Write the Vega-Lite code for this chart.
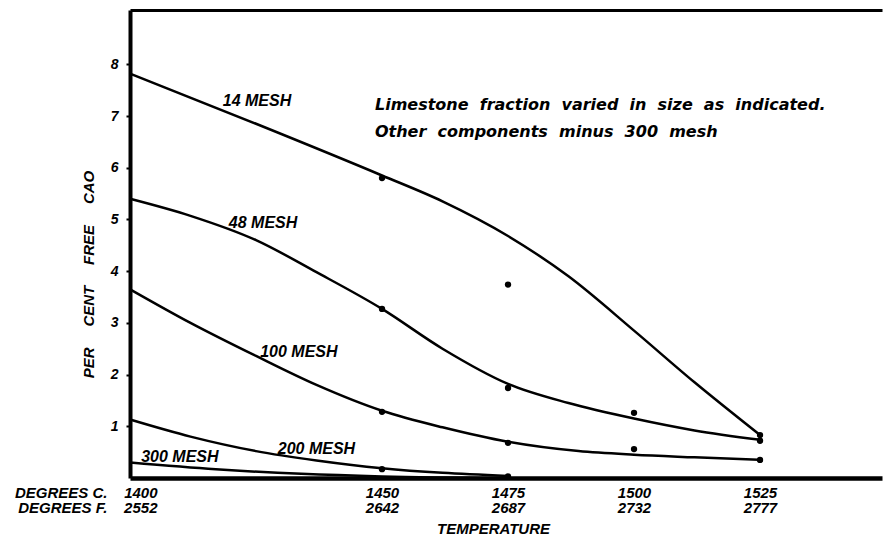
{
  "$schema": "https://vega.github.io/schema/vega-lite/v6.json",
  "width": 752,
  "height": 468,
  "autosize": {"type": "none"},
  "padding": {"left": 130, "top": 10, "right": 1, "bottom": 58},
  "background": "white",
  "config": {"view": {"stroke": null}, "font": "Liberation Sans"},
  "datasets": {
    "curves": [
      {"series": "14 MESH", "T": 1400, "v": 7.82},
      {"series": "14 MESH", "T": 1425, "v": 6.85},
      {"series": "14 MESH", "T": 1450, "v": 5.85},
      {"series": "14 MESH", "T": 1462, "v": 5.35},
      {"series": "14 MESH", "T": 1475, "v": 4.68},
      {"series": "14 MESH", "T": 1487, "v": 3.9},
      {"series": "14 MESH", "T": 1500, "v": 2.85},
      {"series": "14 MESH", "T": 1512, "v": 1.85},
      {"series": "14 MESH", "T": 1525, "v": 0.83},
      {"series": "48 MESH", "T": 1400, "v": 5.4},
      {"series": "48 MESH", "T": 1412, "v": 5.07},
      {"series": "48 MESH", "T": 1425, "v": 4.6},
      {"series": "48 MESH", "T": 1437, "v": 3.98},
      {"series": "48 MESH", "T": 1450, "v": 3.27},
      {"series": "48 MESH", "T": 1462, "v": 2.5},
      {"series": "48 MESH", "T": 1475, "v": 1.82},
      {"series": "48 MESH", "T": 1487, "v": 1.45},
      {"series": "48 MESH", "T": 1500, "v": 1.15},
      {"series": "48 MESH", "T": 1512, "v": 0.92},
      {"series": "48 MESH", "T": 1525, "v": 0.74},
      {"series": "100 MESH", "T": 1400, "v": 3.65},
      {"series": "100 MESH", "T": 1412, "v": 3.0},
      {"series": "100 MESH", "T": 1425, "v": 2.36},
      {"series": "100 MESH", "T": 1437, "v": 1.8},
      {"series": "100 MESH", "T": 1450, "v": 1.3},
      {"series": "100 MESH", "T": 1462, "v": 0.98},
      {"series": "100 MESH", "T": 1475, "v": 0.7},
      {"series": "100 MESH", "T": 1489, "v": 0.52},
      {"series": "100 MESH", "T": 1500, "v": 0.45},
      {"series": "100 MESH", "T": 1512, "v": 0.4},
      {"series": "100 MESH", "T": 1525, "v": 0.35},
      {"series": "200 MESH", "T": 1400, "v": 1.13},
      {"series": "200 MESH", "T": 1412, "v": 0.8},
      {"series": "200 MESH", "T": 1425, "v": 0.52},
      {"series": "200 MESH", "T": 1437, "v": 0.34},
      {"series": "200 MESH", "T": 1450, "v": 0.19},
      {"series": "200 MESH", "T": 1462, "v": 0.1},
      {"series": "200 MESH", "T": 1475, "v": 0.04},
      {"series": "300 MESH", "T": 1400, "v": 0.3},
      {"series": "300 MESH", "T": 1417, "v": 0.17},
      {"series": "300 MESH", "T": 1434, "v": 0.08},
      {"series": "300 MESH", "T": 1450, "v": 0.03},
      {"series": "300 MESH", "T": 1475, "v": 0.0}
    ],
    "dots": [
      {"T": 1450, "v": 5.8},
      {"T": 1450, "v": 3.27},
      {"T": 1450, "v": 1.28},
      {"T": 1450, "v": 0.17},
      {"T": 1475, "v": 3.74},
      {"T": 1475, "v": 1.74},
      {"T": 1475, "v": 0.68},
      {"T": 1475, "v": 0.03},
      {"T": 1500, "v": 1.26},
      {"T": 1500, "v": 0.56},
      {"T": 1525, "v": 0.83},
      {"T": 1525, "v": 0.72},
      {"T": 1525, "v": 0.35}
    ],
    "labels": [
      {"label": "14 MESH", "T": 1425.2, "v": 7.29},
      {"label": "48 MESH", "T": 1426.4, "v": 4.94},
      {"label": "100 MESH", "T": 1433.5, "v": 2.44},
      {"label": "200 MESH", "T": 1437, "v": 0.56},
      {"label": "300 MESH", "T": 1409.9, "v": 0.41}
    ],
    "notes": [
      {"note": "Limestone\u00a0 fraction\u00a0 varied\u00a0 in\u00a0 size\u00a0 as\u00a0 indicated.", "T": 1448.6, "v": 7.21},
      {"note": "Other\u00a0 components\u00a0 minus\u00a0 300\u00a0 mesh", "T": 1448.6, "v": 6.69}
    ]
  },
  "layer": [
    {
      "data": {"name": "curves"},
      "mark": {"type": "line", "interpolate": "monotone", "color": "black", "strokeWidth": 2.5},
      "encoding": {
        "x": {
          "field": "T", "type": "quantitative",
          "scale": {"domain": [1400, 1549.2], "nice": false, "zero": false},
          "axis": {
            "orient": "bottom",
            "values": [1400, 1450, 1475, 1500, 1525],
            "labelExpr": "datum.value == 1400 ? ['DEGREES C.\u00a0\u00a0\u00a0\u00a0' + datum.label, 'DEGREES F.\u00a0\u00a0\u00a0\u00a0' + format(datum.value * 9 / 5 + 32, 'd')] : [datum.label, format(datum.value * 9 / 5 + 32, 'd')]",
            "format": "d",
            "labelAlign": {"condition": {"test": "datum.value == 1400", "value": "right"}, "value": "center"},
            "labelOffset": {"condition": {"test": "datum.value == 1400", "value": 27}, "value": 0},
            "labelFont": "Liberation Sans",
            "labelFontStyle": "italic",
            "labelFontWeight": "bold",
            "labelFontSize": 15,
            "labelLineHeight": 15,
            "labelColor": "black",
            "labelPadding": 7,
            "labelBaseline": "top",
            "labelOverlap": false,
            "labelFlush": false,
            "tickSize": 0,
            "domainColor": "black",
            "domainWidth": 4.5,
            "grid": false,
            "title": "TEMPERATURE",
            "titleFont": "Liberation Sans",
            "titleFontStyle": "italic",
            "titleFontWeight": "bold",
            "titleFontSize": 15,
            "titleColor": "black",
            "titleX": 363,
            "titleY": 50,
            "titleAlign": "center",
            "titleBaseline": "middle"
          }
        },
        "y": {
          "field": "v", "type": "quantitative",
          "scale": {"domain": [0, 9.05], "nice": false, "zero": false},
          "axis": {
            "values": [1, 2, 3, 4, 5, 6, 7, 8],
            "labelFont": "Liberation Sans",
            "labelFontStyle": "italic",
            "labelFontWeight": "bold",
            "labelFontSize": 14,
            "labelColor": "black",
            "labelPadding": 8,
            "tickSize": 4,
            "tickWidth": 2,
            "tickColor": "black",
            "domainColor": "black",
            "domainWidth": 4,
            "grid": false,
            "title": "PER\u00a0\u00a0\u00a0\u00a0\u00a0CENT\u00a0\u00a0\u00a0\u00a0\u00a0FREE\u00a0\u00a0\u00a0\u00a0\u00a0CAO",
            "titleFont": "Liberation Sans",
            "titleFontStyle": "italic",
            "titleFontWeight": "bold",
            "titleFontSize": 15,
            "titleColor": "black",
            "titleAngle": -90,
            "titleX": -42,
            "titleY": 264,
            "titleAlign": "center",
            "titleBaseline": "middle"
          }
        },
        "detail": {"field": "series"}
      }
    },
    {
      "data": {"name": "dots"},
      "mark": {"type": "point", "filled": true, "color": "black", "size": 40, "opacity": 1},
      "encoding": {
        "x": {"field": "T", "type": "quantitative", "axis": null},
        "y": {"field": "v", "type": "quantitative"}
      }
    },
    {
      "data": {"name": "labels"},
      "mark": {"type": "text", "font": "Liberation Sans", "fontStyle": "italic", "fontWeight": "bold", "fontSize": 16, "color": "black", "align": "center", "baseline": "middle"},
      "encoding": {
        "x": {"field": "T", "type": "quantitative", "axis": null},
        "y": {"field": "v", "type": "quantitative"},
        "text": {"field": "label"}
      }
    },
    {
      "data": {"name": "notes"},
      "mark": {"type": "text", "font": "DejaVu Sans", "fontStyle": "italic", "fontWeight": "bold", "fontSize": 16, "color": "black", "align": "left", "baseline": "middle"},
      "encoding": {
        "x": {"field": "T", "type": "quantitative", "axis": {"orient": "top", "labels": false, "ticks": false, "title": null, "grid": false, "domainColor": "black", "domainWidth": 3}},
        "y": {"field": "v", "type": "quantitative"},
        "text": {"field": "note"}
      }
    }
  ],
  "resolve": {"axis": {"x": "independent"}}
}
